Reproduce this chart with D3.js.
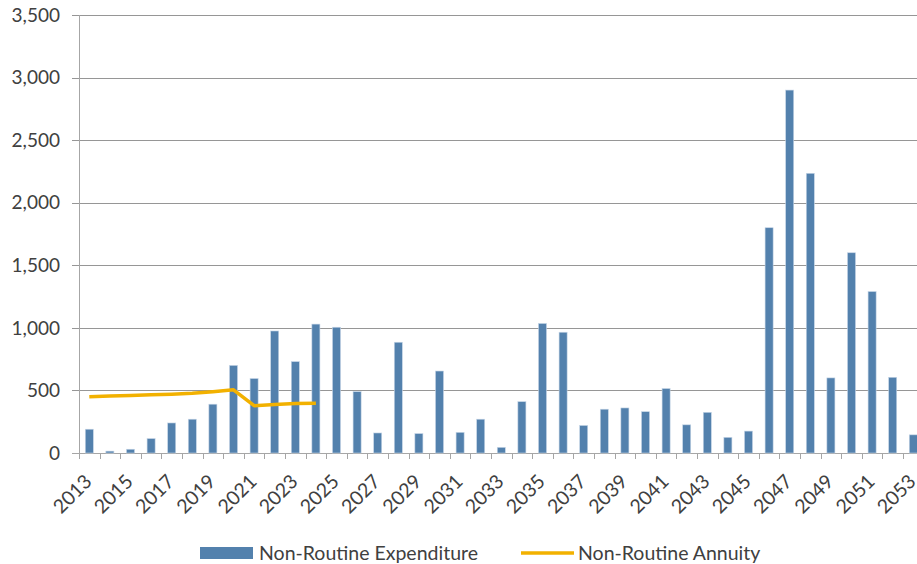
<html>
<head>
<style>
  body { margin: 0; background: #fff; font-family: Lato, "Open Sans", sans-serif; }
  svg { display: block; overflow: hidden; }
</style>
<script src="https://d3js.org/d3.v7.min.js"></script>
</head>
<body>
<div id="chart"></div>
<script>
  var years = d3.range(2013, 2054);
  var expenditure = [190, 15, 30, 115, 240, 270, 390, 700, 595, 975,
                     730, 1030, 1005, 490, 160, 885, 155, 655, 165, 270,
                     45, 410, 1035, 965, 220, 350, 360, 330, 515, 225,
                     325, 125, 175, 1800, 2900, 2235, 600, 1600, 1290, 605, 145];
  var annuityYears = d3.range(2013, 2025);
  var annuity = [450, 455, 460, 465, 470, 478, 490, 505, 378, 388, 396, 398];
  var yTicks = [0, 500, 1000, 1500, 2000, 2500, 3000, 3500];

  var W = 917, H = 564;
  var mLeft = 79, mTop = 15, mBottom = 453;
  var step = 20.6;
  var plotW = step * years.length;

  var svg = d3.select("#chart").append("svg")
    .attr("width", W).attr("height", H);

  var x = d3.scaleBand().domain(years).range([mLeft, mLeft + plotW])
    .paddingInner(0.61).paddingOuter(0.305);
  var y = d3.scaleLinear().domain([0, 3500]).range([mBottom, mTop]);

  // gridlines
  svg.append("g").selectAll("line").data(yTicks).enter().append("line")
    .attr("x1", mLeft - 7).attr("x2", W)
    .attr("y1", function(d) { return Math.round(y(d)) + 0.5; })
    .attr("y2", function(d) { return Math.round(y(d)) + 0.5; })
    .attr("stroke", function(d) { return d === 0 ? "#a6a6a6" : "#969696"; })
    .attr("stroke-width", 1);

  // y axis line
  svg.append("line")
    .attr("x1", mLeft + 0.5).attr("x2", mLeft + 0.5)
    .attr("y1", mTop).attr("y2", mBottom + 6)
    .attr("stroke", "#a6a6a6");

  svg.append("g").selectAll("text").data(yTicks).enter().append("text")
    .attr("x", 60).attr("y", function(d) { return y(d); })
    .attr("dy", "0.35em")
    .attr("text-anchor", "end")
    .attr("font-size", 19).attr("fill", "#404040")
    .text(d3.format(","));

  // x ticks at category boundaries
  svg.append("g").selectAll("line").data(d3.range(years.length + 1)).enter().append("line")
    .attr("x1", function(i) { return Math.round(mLeft + i * step) + 0.5; })
    .attr("x2", function(i) { return Math.round(mLeft + i * step) + 0.5; })
    .attr("y1", mBottom).attr("y2", mBottom + 6)
    .attr("stroke", "#a6a6a6");

  // bars
  svg.append("g").selectAll("rect").data(years).enter().append("rect")
    .attr("x", function(d) { return x(d); })
    .attr("width", x.bandwidth())
    .attr("y", function(d, i) { return y(expenditure[i]); })
    .attr("height", function(d, i) { return mBottom - y(expenditure[i]); })
    .attr("fill", "#5381ad")
    .attr("stroke", "#c5d5e6").attr("stroke-width", 0.6);

  // annuity line
  var line = d3.line()
    .x(function(d) { return x(d) + x.bandwidth() / 2; })
    .y(function(d, i) { return y(annuity[i]); });
  svg.append("path").datum(annuityYears)
    .attr("d", line)
    .attr("fill", "none")
    .attr("stroke", "#f2b100").attr("stroke-width", 3.5)
    .attr("stroke-linejoin", "round");

  // x labels
  svg.append("g").selectAll("text").data(years.filter(function(d, i) { return i % 2 === 0; }))
    .enter().append("text")
    .attr("transform", function(d) {
      return "translate(" + (x(d) + x.bandwidth() / 2 - 1) + "," + (mBottom + 25) + ") rotate(-45)";
    })
    .attr("text-anchor", "end")
    .attr("dy", "0.35em")
    .attr("font-size", 19.5).attr("fill", "#404040")
    .text(function(d) { return d; });

  // legend
  var lg = svg.append("g");
  lg.append("rect").attr("x", 200).attr("y", 547).attr("width", 53).attr("height", 12)
    .attr("fill", "#5381ad");
  lg.append("text").attr("x", 259).attr("y", 553).attr("dy", "0.35em")
    .attr("font-size", 19.5).attr("fill", "#404040").text("Non-Routine Expenditure");
  lg.append("line").attr("x1", 521).attr("x2", 574).attr("y1", 553).attr("y2", 553)
    .attr("stroke", "#f2b100").attr("stroke-width", 3.5);
  lg.append("text").attr("x", 578).attr("y", 553).attr("dy", "0.35em")
    .attr("font-size", 19.5).attr("fill", "#404040").text("Non-Routine Annuity");
</script>
</body>
</html>
